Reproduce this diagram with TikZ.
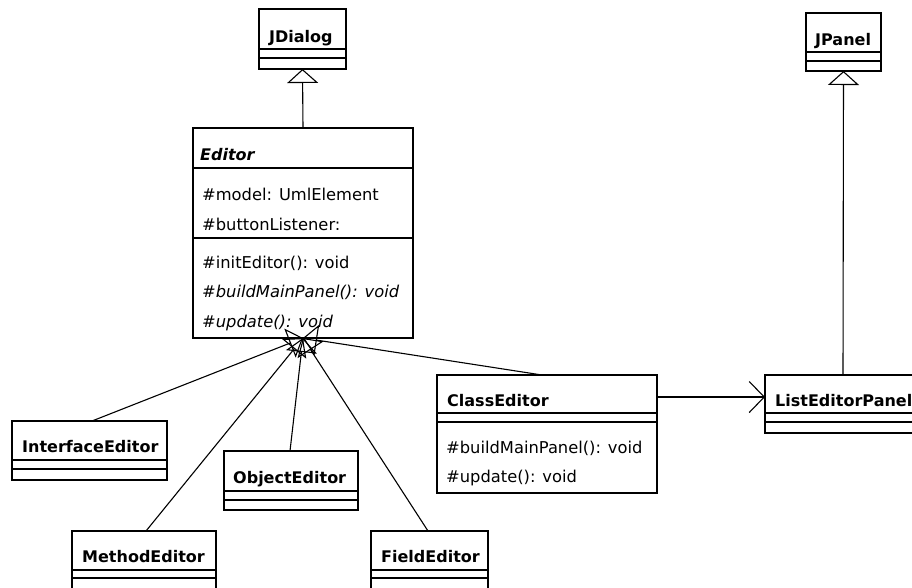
\documentclass[tikz,border=0pt]{standalone}
\usepackage{fontspec}
\setmainfont{DejaVu Sans}
\usetikzlibrary{arrows.meta,calc}
\tikzset{
  umlbox/.style={draw, line width=1.3pt, inner sep=0pt, outer sep=0pt, anchor=north west, rectangle},
  divider/.style={line width=1.3pt},
  cname/.style={anchor=base west, inner sep=0pt, font=\fontsize{16}{19}\selectfont\bfseries},
  member/.style={anchor=base west, inner sep=0pt, font=\fontsize{16.3}{19}\selectfont},
  inherit/.style={line width=1.1pt, -{Triangle[open,length=14pt,width=31pt]}},
  assoc/.style={line width=1.1pt, -{Straight Barb[length=15pt,width=31pt]}},
}
% class box: name, x, y, width, height, first divider, second divider
\newcommand{\umlclass}[7]{%
  \node[umlbox, minimum width=#4pt, minimum height=#5pt] (#1) at (#2,#3) {};
  \draw[divider] ($(#1.north west)+(0,#6)$) -- ($(#1.north east)+(0,#6)$);
  \draw[divider] ($(#1.north west)+(0,#7)$) -- ($(#1.north east)+(0,#7)$);
}
\begin{document}
\begin{tikzpicture}[x=1pt,y=-1pt]
  \path[use as bounding box, clip] (0,0) rectangle (912,587);
  \fill[white] (0,0) rectangle (912,587);

  % classes
  \umlclass{jdialog}{259}{9}{87}{60}{40}{49}
  \umlclass{jpanel}{806}{13}{75}{58}{39}{48}
  \umlclass{editor}{193}{128}{220}{210}{40}{110}
  \umlclass{iface}{12}{421}{155}{59}{39}{48}
  \umlclass{objed}{224}{451}{134}{59}{40}{49}
  \umlclass{methed}{72}{531}{144}{70}{39}{47}
  \umlclass{fielded}{371}{531}{117}{70}{39}{47}
  \umlclass{classed}{437}{375}{220}{118}{38}{47}
  \umlclass{listed}{765}{375}{156}{58}{38}{47}

  % class names
  \node[cname] (jdialog-n) at (269,42) {JDialog};
  \node[cname] (jpanel-n) at (815,45) {JPanel};
  \node[cname, font=\fontsize{16}{19}\selectfont\bfseries\itshape] (editor-n) at (200,160) {Editor};
  \node[cname] (iface-n) at (22,452) {InterfaceEditor};
  \node[cname] (objed-n) at (233,483) {ObjectEditor};
  \node[cname] (methed-n) at (82,562) {MethodEditor};
  \node[cname] (fielded-n) at (381,562) {FieldEditor};
  \node[cname] (classed-n) at (447,406) {ClassEditor};
  \node[cname] (listed-n) at (775,406) {ListEditorPanel};

  % members of Editor
  \node[member] (ed-a1) at (202,200) {\#model: UmlElement};
  \node[member] (ed-a2) at (202,230) {\#buttonListener:};
  \node[member] (ed-m1) at (202,268) {\#initEditor(): void};
  \node[member, font=\fontsize{16.3}{19}\selectfont\itshape] (ed-m2) at (202,297) {\#buildMainPanel(): void};
  \node[member, font=\fontsize{16.3}{19}\selectfont\itshape] (ed-m3) at (202,327) {\#update(): void};

  % members of ClassEditor
  \node[member] (ce-m1) at (446,453) {\#buildMainPanel(): void};
  \node[member] (ce-m2) at (446,482) {\#update(): void};

  % generalizations
  \draw[inherit] (editor.north) -- (jdialog.south);
  \draw[inherit] (listed.north) -- (jpanel.south);
  \draw[inherit] ($(iface.north west)+(80,0)$) -- (editor.south);
  \draw[inherit] ($(methed.north west)+(74,0)$) -- (editor.south);
  \draw[inherit] ($(objed.north west)+(66,0)$) -- (editor.south);
  \draw[inherit] ($(fielded.north west)+(57,0)$) -- (editor.south);
  \draw[inherit] ($(classed.north west)+(105,0)$) -- (editor.south);

  % association
  \draw[assoc] ($(classed.north east)+(0,22)$) -- ($(listed.north west)+(0,22)$);
\end{tikzpicture}
\end{document}
